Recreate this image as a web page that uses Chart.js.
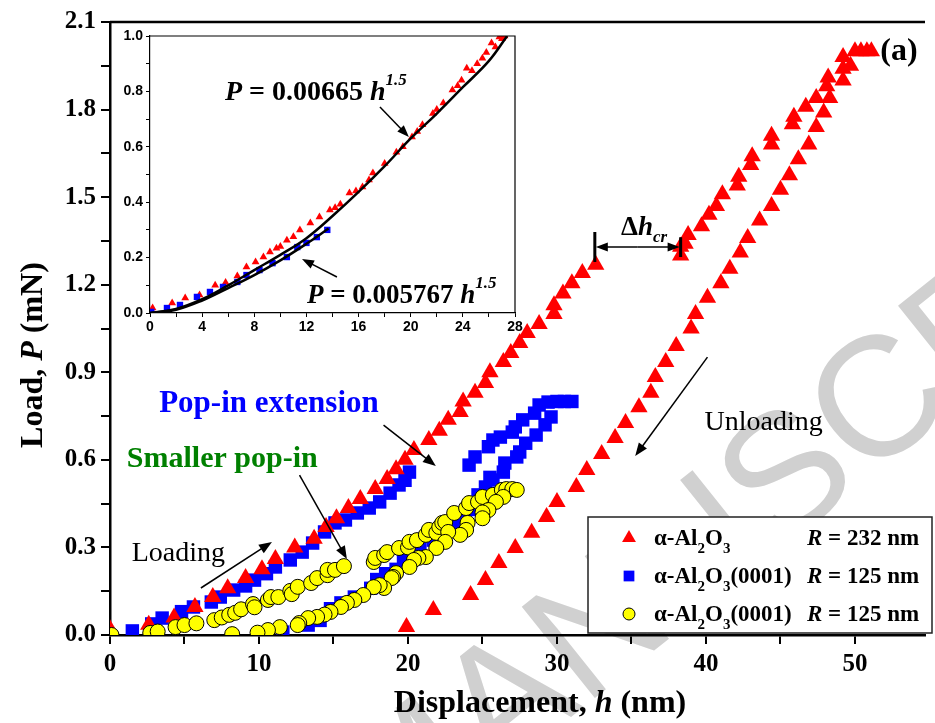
<!DOCTYPE html>
<html>
<head>
<meta charset="utf-8">
<script src="https://cdn.jsdelivr.net/npm/chart.js@4.4.1/dist/chart.umd.min.js"></script>
<style>
  html, body { margin: 0; padding: 0; background: #fff; }
  #wrap { position: relative; width: 935px; height: 723px; }
  #wrap canvas { position: absolute; left: 0; top: 0; }
</style>
</head>
<body>
<div id="wrap">
  <canvas id="mainChart" width="935" height="723"></canvas>
  <canvas id="insetChart" width="935" height="723"></canvas>
</div>
<script>
// ---- data: [h (nm), P (mN)] ----
const sapphireR232 = [
  [0,0.02],[2.6,0.035],[4.3,0.06],[5.7,0.096],[6.9,0.13],[7.9,0.16],[9.1,0.195],[10.2,0.225],[11.1,0.26],[12.4,0.30],
  [13.7,0.33],[14.5,0.37],[15.2,0.40],[16.0,0.435],[16.8,0.466],[17.8,0.50],[18.6,0.534],[19.2,0.568],[19.8,0.60],[20.4,0.634],
  [21.4,0.668],[22.1,0.70],[22.7,0.737],[23.5,0.764],[23.7,0.80],[24.5,0.83],[25.2,0.863],[25.5,0.90],[26.4,0.935],[26.9,0.966],
  [27.5,1.00],[28.0,1.035],[28.8,1.065],[29.8,1.10],[29.8,1.13],[30.4,1.17],[31.0,1.205],[31.7,1.24],[32.6,1.268],
  [38.3,1.30],[38.3,1.33],[38.6,1.34],[38.8,1.37],[39.7,1.40],[40.2,1.44],[40.7,1.47],[41.1,1.51],[42.1,1.54],[42.2,1.57],
  [43.0,1.61],[43.1,1.64],[44.4,1.68],[44.4,1.71],[45.8,1.75],[45.9,1.775],[46.7,1.81],[47.4,1.84],[48.1,1.88],[48.2,1.91],
  [49.2,1.94],[49.2,1.98],[50.0,2.0],[50.4,2.0],[50.8,2.0],[51.1,2.0],
  [49.7,1.95],[49.2,1.90],[48.3,1.84],[47.9,1.79],[47.4,1.74],[46.9,1.68],[46.2,1.63],[45.6,1.575],[45.0,1.525],[44.4,1.47],
  [43.6,1.42],[42.8,1.36],[42.3,1.31],[41.6,1.255],[41.0,1.205],[40.1,1.155],[39.3,1.10],[39.0,1.05],[38.0,0.99],[37.3,0.935],
  [36.6,0.884],[36.3,0.83],[35.5,0.78],[34.6,0.726],[33.9,0.675],[33.0,0.62],[32.0,0.565],[31.3,0.507],[30.0,0.456],[29.3,0.404],
  [28.3,0.35],[27.2,0.298],[26.1,0.247],[25.2,0.188],[24.2,0.137],[21.7,0.086],[19.9,0.027]
];
const sapphire0001Sq = [
  [1.5,0.014],[2.8,0.038],[3.5,0.058],[4.8,0.08],[5.6,0.096],[6.8,0.113],[7.4,0.13],[8.3,0.154],[9.1,0.168],[9.7,0.188],
  [10.5,0.21],[11.1,0.233],[12.1,0.257],[12.9,0.284],[13.6,0.315],[14.4,0.353],[15.1,0.384],[15.8,0.394],[16.6,0.418],[17.4,0.435],
  [18.1,0.456],[18.8,0.486],[19.4,0.514],[19.8,0.53],[20.1,0.558],
  [24.1,0.582],[24.5,0.61],[25.4,0.645],[25.7,0.668],[26.2,0.678],[27.0,0.695],[27.2,0.713],[27.7,0.737],[28.5,0.76],[28.8,0.788],
  [29.4,0.798],[30.0,0.80],[30.5,0.80],[31.0,0.80],
  [29.6,0.747],[29.2,0.72],[28.6,0.685],[27.9,0.657],[27.5,0.627],[27.3,0.61],[26.5,0.589],[26.4,0.558],[25.7,0.531],[25.5,0.54],
  [25.2,0.507],[24.7,0.48],[24.5,0.452],[24.2,0.43],[23.4,0.39],[23.0,0.355],[22.2,0.34],[21.7,0.325],[20.8,0.298],[20.2,0.28],
  [19.7,0.264],[19.2,0.225],[18.5,0.21],[17.9,0.19],[17.5,0.16],[16.4,0.13],[15.5,0.11],[14.8,0.09],[14.1,0.05],[13.3,0.034],[11.6,0.01]
];
const sapphire0001Circ = [
  [0.1,0.0],[2.7,0.007],[3.2,0.012],[4.4,0.027],[5.0,0.034],[5.8,0.04],[7.0,0.051],[7.5,0.06],[8.0,0.069],[8.4,0.076],
  [8.8,0.088],[9.6,0.106],[9.7,0.095],[10.6,0.12],[10.8,0.13],[11.3,0.13],[12.1,0.151],[12.2,0.14],[12.6,0.165],[13.5,0.178],
  [13.9,0.195],[14.6,0.205],[14.6,0.223],[15.1,0.223],[15.7,0.236],
  [17.7,0.25],[17.8,0.264],[18.4,0.274],[18.6,0.284],[19.4,0.298],[20.0,0.30],[20.1,0.319],[20.6,0.325],[21.2,0.343],[21.4,0.36],
  [21.9,0.35],[22.1,0.37],[22.3,0.384],[22.5,0.387],[23.1,0.418],[23.9,0.435],[24.1,0.452],[24.7,0.456],[25.0,0.473],[25.7,0.48],
  [26.3,0.497],[26.6,0.50],[27.0,0.50],[27.3,0.497],
  [26.4,0.473],[25.9,0.456],[25.4,0.428],[25.0,0.42],[25.0,0.40],[24.0,0.384],[23.9,0.36],[23.5,0.343],[22.7,0.353],[22.5,0.319],
  [21.9,0.298],[21.2,0.267],[20.7,0.264],[20.4,0.257],[20.1,0.233],[19.2,0.212],[19.0,0.199],[18.9,0.195],[18.4,0.161],[18.1,0.171],
  [17.7,0.164],[17.0,0.137],[16.4,0.12],[15.9,0.11],[15.5,0.096],[14.8,0.079],[14.4,0.07],[13.9,0.062],[13.3,0.058],[12.7,0.041],
  [12.6,0.034],[11.4,0.027],[10.6,0.017],[9.9,0.008],[8.2,0.003]
];
const xTickValues = [0,5,10,15,20,25,30,35,40,45,50];
const yTickValues = [0,0.15,0.3,0.45,0.6,0.75,0.9,1.05,1.2,1.35,1.5,1.65,1.8,1.95,2.1];

// inset data
const insetRed = [
  [0.2,0.018],[1.7,0.036],[2.7,0.054],[3.8,0.065],[5.0,0.1],[5.8,0.11],[6.7,0.134],[7.4,0.166],[8.1,0.184],[8.7,0.202],
  [9.2,0.22],[9.7,0.234],[10.0,0.24],[10.5,0.263],[11.0,0.275],[11.5,0.30],[12.3,0.325],[13.0,0.347],[13.8,0.372],[14.2,0.38],
  [14.6,0.393],[15.3,0.433],[15.8,0.44],[16.3,0.455],[16.8,0.48],[17.1,0.505],[18.0,0.54],[18.9,0.58],[19.4,0.60],[20.1,0.635],
  [20.5,0.655],[20.9,0.68],[21.7,0.72],[22.0,0.735],[22.5,0.758],[23.2,0.805],[23.6,0.82],[23.9,0.84],[24.3,0.884],[24.7,0.875],
  [25.1,0.90],[25.5,0.92],[25.8,0.94],[26.2,0.975],[26.5,0.96],[26.8,0.996],[27.0,0.99],[27.2,1.0]
];
const insetBlue = [
  [0.1,0.004],[1.3,0.018],[2.3,0.029],[3.6,0.058],[4.6,0.076],[5.6,0.094],[6.7,0.112],[7.4,0.137],[8.4,0.155],[9.4,0.18],
  [10.5,0.202],[11.3,0.238],[12.0,0.253],[12.8,0.274],[13.6,0.30]
];
const fitRed = [[0,0],[2,0.015],[4,0.05],[6,0.1],[8,0.155],[10,0.21],[12,0.27],[14,0.35],[16,0.437],[18,0.53],[20,0.63],[22,0.72],[24,0.815],[26,0.91],[27.4,1.0]];
const fitBlue = [[0,0],[2,0.012],[4,0.045],[6,0.09],[8,0.137],[10,0.19],[12,0.25],[13.7,0.305]];
const insetXTicks = [0,2,4,6,8,10,12,14,16,18,20,22,24,26,28];
const insetYTicks = [0,0.1,0.2,0.3,0.4,0.5,0.6,0.7,0.8,0.9,1.0];

const SERIF = '"Liberation Serif", "Times New Roman", serif';
const SANS = '"Liberation Sans", Arial, sans-serif';

const toPts = arr => arr.map(p => ({ x: p[0], y: p[1] }));

function drawRuns(ctx, x, y, runs) {
    ctx.textAlign = 'left';
    ctx.textBaseline = 'alphabetic';
    runs.forEach(r => {
        ctx.font = r.font;
        ctx.fillStyle = r.color || '#000';
        ctx.fillText(r.text, x, y + (r.dy || 0));
        x += ctx.measureText(r.text).width + (r.gap || 0);
    });
    return x;
}

function runsWidth(ctx, runs) {
    let w = 0;
    runs.forEach(r => { ctx.font = r.font; w += ctx.measureText(r.text).width + (r.gap || 0); });
    return w;
}

function arrow(ctx, x1, y1, x2, y2, head, half, lw) {
    head = head || 13; half = half || 5; lw = lw || 1.5;
    const a = Math.atan2(y2 - y1, x2 - x1);
    const c = Math.cos(a), s = Math.sin(a);
    ctx.save();
    ctx.strokeStyle = '#000';
    ctx.fillStyle = '#000';
    ctx.lineWidth = lw;
    ctx.beginPath();
    ctx.moveTo(x1, y1);
    ctx.lineTo(x2 - head * 0.7 * c, y2 - head * 0.7 * s);
    ctx.stroke();
    ctx.beginPath();
    ctx.moveTo(x2, y2);
    ctx.lineTo(x2 - head * c + half * s, y2 - head * s - half * c);
    ctx.lineTo(x2 - head * c - half * s, y2 - head * s + half * c);
    ctx.closePath();
    ctx.fill();
    ctx.restore();
}

// ---------- main chart plugin: background, watermark, frame, notes, legend ----------
const mainDecor = {
    id: 'mainDecor',
    beforeDraw(chart) {
        const ctx = chart.ctx;
        ctx.save();
        ctx.fillStyle = '#fff';
        ctx.fillRect(0, 0, chart.width, chart.height);
        // faint diagonal watermark
        ctx.translate(385, 866);
        ctx.rotate(-0.675);
        ctx.font = '170px ' + SANS;
        ctx.fillStyle = '#d0d0d0';
        ctx.textAlign = 'left';
        ctx.textBaseline = 'alphabetic';
        ctx.fillText('MANUSCRIPT', 0, 0);
        ctx.restore();
    },
    afterDraw(chart) {
        const ctx = chart.ctx;
        const xs = chart.scales.x, ys = chart.scales.y;
        const area = chart.chartArea;
        const X = v => xs.getPixelForValue(v), Y = v => ys.getPixelForValue(v);
        ctx.save();

        // top frame line
        ctx.strokeStyle = '#000';
        ctx.lineWidth = 2.5;
        ctx.beginPath();
        ctx.moveTo(area.left, area.top);
        ctx.lineTo(area.right, area.top);
        ctx.stroke();

        // axis titles
        const b = 'bold 32px ' + SERIF, bi = 'italic bold 32px ' + SERIF;
        const xt = [{ text: 'Displacement, ', font: b }, { text: 'h', font: bi }, { text: ' (nm)', font: b }];
        drawRuns(ctx, 540 - runsWidth(ctx, xt) / 2, 712, xt);
        const yt = [{ text: 'Load, ', font: b }, { text: 'P', font: bi }, { text: ' (mN)', font: b }];
        ctx.save();
        ctx.translate(42, 355);
        ctx.rotate(-Math.PI / 2);
        drawRuns(ctx, -runsWidth(ctx, yt) / 2, 0, yt);
        ctx.restore();

        // labels on the plot
        drawRuns(ctx, X(51.7), Y(1.97), [{ text: '(a)', font: 'bold 32px ' + SERIF }]);
        drawRuns(ctx, X(3.3), Y(0.764), [{ text: 'Pop-in extension', font: 'bold 31px ' + SERIF, color: '#0000ff' }]);
        drawRuns(ctx, X(1.13), Y(0.576), [{ text: 'Smaller pop-in', font: 'bold 30px ' + SERIF, color: '#008000' }]);
        drawRuns(ctx, X(1.46), Y(0.254), [{ text: 'Loading', font: '28px ' + SERIF }]);
        drawRuns(ctx, X(39.9), Y(0.702), [{ text: 'Unloading', font: '28px ' + SERIF }]);

        // arrows
        arrow(ctx, X(6.1), Y(0.161), X(10.87), Y(0.319));
        arrow(ctx, X(12.72), Y(0.548), X(15.9), Y(0.26));
        arrow(ctx, X(18.36), Y(0.719), X(21.87), Y(0.579));
        arrow(ctx, X(40.1), Y(0.952), X(35.25), Y(0.613));

        // critical pop-in width marker
        ctx.lineWidth = 3;
        ctx.beginPath();
        ctx.moveTo(X(32.54), Y(1.381)); ctx.lineTo(X(32.54), Y(1.278));
        ctx.moveTo(X(38.3), Y(1.363)); ctx.lineTo(X(38.3), Y(1.295));
        ctx.stroke();
        const midX = (X(32.54) + X(38.3)) / 2;
        arrow(ctx, midX, Y(1.329), X(32.54) + 1, Y(1.329), 12, 4.5, 1.5);
        arrow(ctx, midX, Y(1.329), X(38.3) - 1, Y(1.329), 12, 4.5, 1.5);
        drawRuns(ctx, X(34.3), Y(1.37), [
            { text: 'Δ', font: 'bold 27px ' + SERIF },
            { text: 'h', font: 'italic bold 27px ' + SERIF },
            { text: 'cr', font: 'italic bold 17px ' + SERIF, dy: 7 }
        ]);

        // legend box
        const lx = 588, ly = 517, lw = 344, lh = 116;
        ctx.fillStyle = '#fff';
        ctx.fillRect(lx, ly, lw, lh);
        ctx.strokeStyle = '#222';
        ctx.lineWidth = 1.5;
        ctx.strokeRect(lx, ly, lw, lh);
        const rows = [
            { y: 545, ds: 0, tail: '', r: '232' },
            { y: 583, ds: 1, tail: '(0001)', r: '125' },
            { y: 621, ds: 2, tail: '(0001)', r: '125' }
        ];
        const lf = 'bold 23px ' + SERIF, lsub = 'bold 15px ' + SERIF, lit = 'italic bold 23px ' + SERIF;
        rows.forEach(row => {
            const d = chart.data.datasets[row.ds];
            ctx.fillStyle = d.backgroundColor;
            ctx.strokeStyle = d.borderColor;
            ctx.lineWidth = d.borderWidth || 0;
            Chart.helpers.drawPoint(ctx, {
                pointStyle: d.pointStyle, radius: d.pointRadius * 0.8, rotation: 0,
                borderWidth: d.borderWidth
            }, 629, row.y - 7);
            drawRuns(ctx, 654, row.y, [
                { text: 'α-Al', font: lf },
                { text: '2', font: lsub, dy: 8 },
                { text: 'O', font: lf },
                { text: '3', font: lsub, dy: 8 },
                { text: row.tail, font: lf }
            ]);
            drawRuns(ctx, 807, row.y, [
                { text: 'R', font: lit },
                { text: ' = ' + row.r + ' nm', font: lf }
            ]);
        });
        ctx.restore();
    }
};

const mainChart = new Chart(document.getElementById('mainChart'), {
    type: 'scatter',
    data: {
        datasets: [
            {
                label: 'α-Al2O3 R = 232 nm',
                data: toPts(sapphireR232),
                pointStyle: 'triangle', pointRadius: 10,
                backgroundColor: '#ff0000', borderColor: '#ff0000', borderWidth: 0,
                order: 2
            },
            {
                label: 'α-Al2O3(0001) R = 125 nm',
                data: toPts(sapphire0001Sq),
                pointStyle: 'rect', pointRadius: 9.5,
                backgroundColor: '#0000ff', borderColor: '#0000ff', borderWidth: 0,
                order: 3
            },
            {
                label: 'α-Al2O3(0001) R = 125 nm',
                data: toPts(sapphire0001Circ),
                pointStyle: 'circle', pointRadius: 7.5,
                backgroundColor: '#ffff00', borderColor: '#000', borderWidth: 1,
                order: 1
            }
        ]
    },
    options: {
        responsive: false,
        animation: false,
        devicePixelRatio: 1,
        events: [],
        layout: { padding: { top: 22, right: 0, left: 0, bottom: 0 } },
        plugins: { legend: { display: false }, tooltip: { enabled: false } },
        scales: {
            x: {
                type: 'linear', min: 0, max: 54.7,
                afterBuildTicks: s => { s.ticks = xTickValues.map(v => ({ value: v })); },
                afterFit: s => { s.height = 88; s.paddingLeft = 0; s.paddingRight = 0; },
                ticks: {
                    autoSkip: false, maxRotation: 0, padding: 6, color: '#000',
                    font: { family: SERIF, size: 25, weight: 'bold' },
                    callback: v => (v % 10 === 0 ? String(v) : '')
                },
                grid: { drawOnChartArea: false, drawTicks: true, tickLength: 9, color: '#000', lineWidth: 2 },
                border: { display: true, color: '#000', width: 2.5 }
            },
            y: {
                type: 'linear', min: 0, max: 2.1,
                afterBuildTicks: s => { s.ticks = yTickValues.map(v => ({ value: v })); },
                afterFit: s => { s.width = 110; s.paddingTop = 0; s.paddingBottom = 0; },
                ticks: {
                    autoSkip: false, padding: 5, color: '#000',
                    font: { family: SERIF, size: 25, weight: 'bold' },
                    callback: v => {
                        const k = v / 0.3;
                        return Math.abs(k - Math.round(k)) < 1e-6 ? v.toFixed(1) : '';
                    }
                },
                grid: { drawOnChartArea: false, drawTicks: true, tickLength: 9, color: '#000', lineWidth: 2 },
                border: { display: true, color: '#000', width: 2.5 }
            }
        }
    },
    plugins: [mainDecor]
});

// ---------- inset chart ----------
const insetDecor = {
    id: 'insetDecor',
    afterDraw(chart) {
        const ctx = chart.ctx;
        const xs = chart.scales.x, ys = chart.scales.y;
        const a = chart.chartArea;
        const X = v => xs.getPixelForValue(v), Y = v => ys.getPixelForValue(v);
        ctx.save();
        ctx.strokeStyle = '#000';
        ctx.lineWidth = 1.2;
        ctx.beginPath();
        ctx.moveTo(a.left, a.top); ctx.lineTo(a.right, a.top); ctx.lineTo(a.right, a.bottom);
        ctx.stroke();
        const f = 'bold 28px ' + SERIF, fi = 'italic bold 28px ' + SERIF, fe = 'italic bold 17px ' + SERIF;
        drawRuns(ctx, X(5.75), Y(0.769), [
            { text: 'P', font: fi }, { text: ' = 0.00665 ', font: f }, { text: 'h', font: fi },
            { text: '1.5', font: fe, dy: -15 }
        ]);
        const f2 = 'bold 27px ' + SERIF, fi2 = 'italic bold 27px ' + SERIF;
        drawRuns(ctx, X(12.04), Y(0.036), [
            { text: 'P', font: fi2 }, { text: ' = 0.005767 ', font: f2 }, { text: 'h', font: fi2 },
            { text: '1.5', font: fe, dy: -15 }
        ]);
        arrow(ctx, X(17.64), Y(0.744), X(19.86), Y(0.635), 12, 4.5, 1.5);
        arrow(ctx, X(14.34), Y(0.13), X(11.66), Y(0.195), 12, 4.5, 1.5);
        ctx.restore();
    }
};

const insetChart = new Chart(document.getElementById('insetChart'), {
    type: 'scatter',
    data: {
        datasets: [
            {
                label: 'fit 0.00665',
                data: toPts(fitRed),
                showLine: true, pointRadius: 0, borderColor: '#000', borderWidth: 2.5,
                tension: 0.4, fill: false, order: 0
            },
            {
                label: 'fit 0.005767',
                data: toPts(fitBlue),
                showLine: true, pointRadius: 0, borderColor: '#000', borderWidth: 2.5,
                tension: 0.4, fill: false, order: 0
            },
            {
                label: 'R = 232 nm',
                data: toPts(insetRed),
                pointStyle: 'triangle', pointRadius: 4.5,
                backgroundColor: '#ff0000', borderColor: '#ff0000', borderWidth: 0, order: 2
            },
            {
                label: 'R = 125 nm',
                data: toPts(insetBlue),
                pointStyle: 'rect', pointRadius: 4.5,
                backgroundColor: '#0000ff', borderColor: '#0000ff', borderWidth: 0, order: 1
            }
        ]
    },
    options: {
        responsive: false,
        animation: false,
        devicePixelRatio: 1,
        events: [],
        layout: { padding: { top: 36, right: 420, left: 110, bottom: 380 } },
        plugins: { legend: { display: false }, tooltip: { enabled: false } },
        scales: {
            x: {
                type: 'linear', min: 0, max: 28,
                afterBuildTicks: s => { s.ticks = insetXTicks.map(v => ({ value: v })); },
                afterFit: s => { s.height = 30; s.paddingLeft = 0; s.paddingRight = 0; },
                ticks: {
                    autoSkip: false, maxRotation: 0, padding: 2, color: '#000',
                    font: { family: SANS, size: 14, weight: 'bold' },
                    callback: v => (v % 4 === 0 ? String(v) : '')
                },
                grid: { drawOnChartArea: false, drawTicks: true, tickLength: 4, color: '#000', lineWidth: 1 },
                border: { display: true, color: '#000', width: 1.2 }
            },
            y: {
                type: 'linear', min: 0, max: 1,
                afterBuildTicks: s => { s.ticks = insetYTicks.map(v => ({ value: v })); },
                afterFit: s => { s.width = 40; s.paddingTop = 0; s.paddingBottom = 0; },
                ticks: {
                    autoSkip: false, padding: 3, color: '#000',
                    font: { family: SANS, size: 14, weight: 'bold' },
                    callback: v => {
                        const k = v / 0.2;
                        return Math.abs(k - Math.round(k)) < 1e-6 ? v.toFixed(1) : '';
                    }
                },
                grid: { drawOnChartArea: false, drawTicks: true, tickLength: 4, color: '#000', lineWidth: 1 },
                border: { display: true, color: '#000', width: 1.2 }
            }
        }
    },
    plugins: [insetDecor]
});
</script>
</body>
</html>
